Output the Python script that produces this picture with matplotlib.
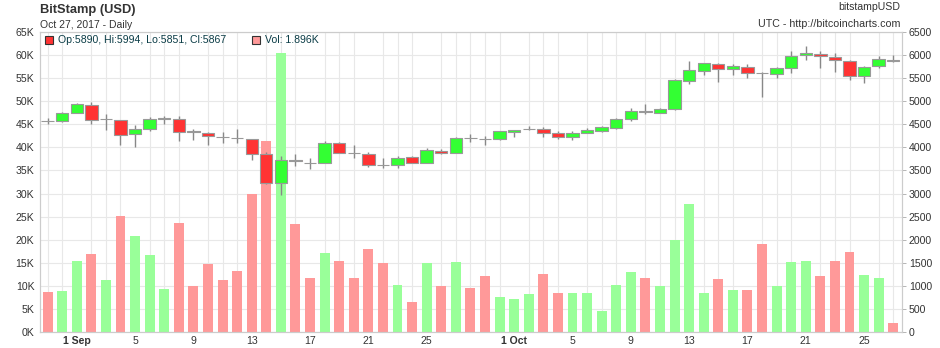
import numpy as np
import pandas as pd
import matplotlib
matplotlib.use("Agg")
import matplotlib.pyplot as plt
from matplotlib.ticker import FuncFormatter, FixedLocator

plt.rcParams['font.family'] = ['Liberation Sans', 'DejaVu Sans']

# daily candles, Aug 30 - Oct 27 2017
dates = pd.date_range("2017-08-30", "2017-10-27", freq="D")

opens = [4580, 4575, 4754, 4920, 4610, 4595, 4297, 4406, 4620, 4616,
         4345, 4319, 4228, 4206, 4175, 3855, 3233, 3721, 3670, 3667,
         4102, 3888, 3863, 3627, 3616, 3790, 3667, 3928, 3885, 4199,
         4177, 4174, 4341, 4403, 4406, 4319, 4225, 4319, 4355, 4428,
         4609, 4779, 4754, 4826, 5442, 5659, 5797, 5696, 5746, 5612,
         5587, 5711, 6000, 6014, 5964, 5877, 5537, 5754, 5890]
highs = [4645, 4770, 4971, 4993, 4717, 4595, 4493, 4667, 4681, 4681,
         4406, 4325, 4333, 4398, 4180, 3906, 3812, 3863, 3769, 4138,
         4110, 4050, 3906, 3776, 3812, 3805, 3986, 3960, 4225, 4283,
         4247, 4362, 4384, 4463, 4442, 4355, 4348, 4413, 4464, 4645,
         4862, 4935, 4862, 5478, 5877, 5833, 5826, 5804, 5797, 5630,
         5746, 6080, 6189, 6080, 6050, 5890, 5768, 5986, 5994]
lows = [4500, 4560, 4740, 4500, 4377, 4050, 4015, 4355, 4515, 4130,
        4167, 4058, 4102, 4095, 3733, 3200, 2978, 3588, 3536, 3667,
        3870, 3761, 3580, 3559, 3544, 3660, 3667, 3850, 3870, 4123,
        4044, 4160, 4232, 4370, 4232, 4174, 4167, 4340, 4340, 4400,
        4580, 4718, 4740, 4812, 5384, 5573, 5424, 5573, 5500, 5102,
        5514, 5602, 5891, 5711, 5624, 5464, 5392, 5710, 5851]
closes = [4575, 4754, 4935, 4602, 4618, 4276, 4406, 4623, 4626, 4326,
          4340, 4239, 4222, 4200, 3863, 3233, 3718, 3715, 3664, 4102,
          3885, 3882, 3624, 3621, 3776, 3667, 3942, 3877, 4210, 4193,
          4171, 4348, 4384, 4409, 4319, 4232, 4319, 4370, 4435, 4609,
          4790, 4773, 4841, 5457, 5674, 5819, 5696, 5754, 5602, 5606,
          5711, 5986, 6043, 5971, 5891, 5537, 5746, 5913, 5867]
# volume in thousands
volumes = [8.7, 8.9, 15.4, 17.0, 11.3, 25.2, 20.9, 16.7, 9.3, 23.7,
           10.0, 14.8, 11.3, 13.3, 29.8, 41.3, 60.5, 23.3, 11.7, 17.2,
           15.4, 11.7, 18.0, 15.0, 10.2, 6.5, 15.0, 10.0, 15.2, 9.6,
           12.2, 7.6, 7.2, 8.3, 12.6, 8.5, 8.5, 8.5, 4.6, 10.2,
           13.0, 11.7, 10.0, 20.0, 27.8, 8.5, 11.5, 9.1, 9.1, 19.1,
           10.0, 15.2, 15.4, 12.2, 15.4, 17.4, 12.4, 11.7, 1.896]

o = np.array(opens)
h = np.array(highs)
l = np.array(lows)
c = np.array(closes)
v = np.array(volumes)
x = np.arange(len(dates))
up = c >= o

fig = plt.figure(figsize=(9.4, 3.48), dpi=100)
ax = fig.add_axes([40 / 940, 16 / 348, 862 / 940, 300 / 348])
ax2 = ax.twinx()

grid_c = '#e8e8e8'
txt_c = '#333333'

# volume bars (left axis)
vol_colors = np.where(up, '#99ff99', '#ff9999')
ax.bar(x, v, width=0.68, color=vol_colors, zorder=2)
ax.set_ylim(0, 65)
ax.set_xlim(-0.52, len(x) - 0.4)
ax.yaxis.set_major_locator(FixedLocator(np.arange(0, 66, 5)))
ax.yaxis.set_major_formatter(FuncFormatter(lambda val, pos: f"{val:g}K"))
ax.set_xticks(x, minor=True)
ax.grid(True, which='major', axis='y', color=grid_c, lw=0.8, zorder=0)
ax.grid(True, which='minor', axis='x', color=grid_c, lw=0.8, zorder=0)
ax.set_axisbelow(True)

# candles (right axis)
body_colors = np.where(up, '#33ff33', '#ff3333')
ax2.vlines(x, l, h, color='#888888', lw=1, zorder=3)
ax2.bar(x, np.abs(c - o), bottom=np.minimum(o, c), width=0.85,
        color=body_colors, edgecolor='#999999', linewidth=0.8, zorder=4)
ax2.set_ylim(0, 6500)
ax2.yaxis.set_major_locator(FixedLocator(np.arange(0, 6501, 500)))
ax2.yaxis.set_major_formatter(FuncFormatter(lambda val, pos: f"{val:.0f}"))

# date ticks every 4 days, month starts in bold
tick_idx = [i for i, d in enumerate(dates) if d.day in (1, 5, 9, 13, 17, 21, 25)]
tick_lab = [f"1 {dates[i]:%b}" if dates[i].day == 1 else str(dates[i].day) for i in tick_idx]
ax.set_xticks(tick_idx)
ax.set_xticklabels(tick_lab)
for t in ax.get_xticklabels():
    if ' ' in t.get_text():
        t.set_fontweight('bold')

for a in (ax, ax2):
    for s in a.spines.values():
        s.set_color('#cccccc')
        s.set_linewidth(0.8)
    a.tick_params(labelsize=7.6, colors=txt_c, length=3, width=0.6, pad=2)
ax.tick_params(axis='x', which='both', length=0, pad=3)
ax.tick_params(axis='y', length=0, pad=4)
ax2.tick_params(axis='y', color='#aaaaaa', pad=2)

# header text
fig.text(40 / 940, 1 - 10 / 348, "BitStamp (USD)", fontsize=9.3, fontweight='bold',
         color=txt_c, va='center', ha='left')
fig.text(40 / 940, 1 - 25 / 348, "Oct 27, 2017 - Daily", fontsize=7.5, color=txt_c,
         va='center', ha='left')
fig.text(900 / 940, 1 - 7 / 348, "bitstampUSD", fontsize=7.6, color=txt_c,
         va='center', ha='right')
fig.text(900 / 940, 1 - 24 / 348, "UTC - http://bitcoincharts.com", fontsize=7.7,
         color=txt_c, va='center', ha='right')

# legend line for the last candle
leg_c = '#0a3c46'
last = len(x) - 1
ax.plot([0.0105], [0.972], transform=ax.transAxes, marker='s', ms=6.2,
        mfc='#ff3333', mec='#333333', mew=0.8, zorder=6, clip_on=False)
ax.text(0.021, 0.972, f"Op:{o[last]}, Hi:{h[last]}, Lo:{l[last]}, Cl:{c[last]}",
        transform=ax.transAxes, fontsize=7.6, color=leg_c, va='center', ha='left', zorder=6)
ax.plot([0.2505], [0.972], transform=ax.transAxes, marker='s', ms=6.2,
        mfc='#ff9999', mec='#333333', mew=0.8, zorder=6, clip_on=False)
ax.text(0.261, 0.972, f"Vol: {v[last]:.3f}K", transform=ax.transAxes, fontsize=7.6,
        color=leg_c, va='center', ha='left', zorder=6)

fig.savefig("out.png", dpi=100, facecolor='white')
